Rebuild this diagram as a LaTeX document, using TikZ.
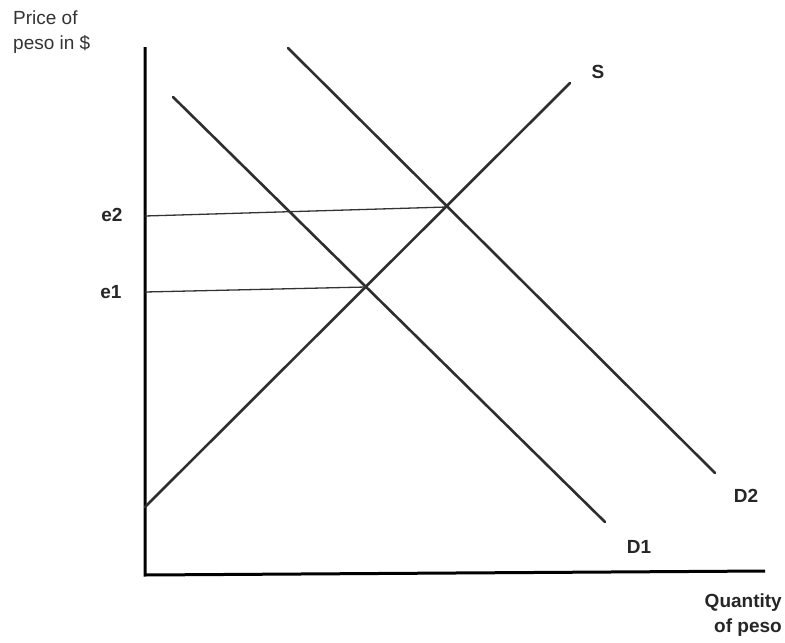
\documentclass[tikz,border=0pt]{standalone}
\usepackage{fontspec}
\setmainfont{Liberation Sans}
\begin{document}
\begin{tikzpicture}[x=1pt,y=-1pt,
  axisline/.style={line width=3pt,black},
  curve/.style={line width=2.6pt,black!82,line cap=round},
  guide/.style={line width=1.3pt,black!80},
  lbl/.style={font=\fontsize{19}{22}\selectfont\bfseries,text=black!85,inner sep=0pt,anchor=base},
  ttl/.style={font=\fontsize{19}{25}\selectfont,text=black!80,inner sep=0pt,align=left}]
\useasboundingbox (0,0) rectangle (785,643);
% axes
\coordinate (O) at (145,575);
\coordinate (Ytop) at (145,47);
\coordinate (Xend) at (765,571);
\draw[axisline] (Ytop) -- (O) -- (Xend);
% curves
\coordinate (S0) at (145,507);
\coordinate (S1) at (570,83);
\coordinate (D1a) at (173,97);
\coordinate (D1b) at (605,522);
\coordinate (D2a) at (288,48);
\coordinate (D2b) at (715,473);
\draw[curve] (S0) -- (S1);
\draw[curve] (D1a) -- (D1b);
\draw[curve] (D2a) -- (D2b);
% equilibria
\coordinate (E2) at (447,207);
\coordinate (E1) at (366,287);
\coordinate (Y2) at (145,216);
\coordinate (Y1) at (145,292);
\draw[guide] (Y2) -- (E2);
\draw[guide] (Y1) -- (E1);
% labels
\node[lbl] (le2) at (112,221) {e2};
\node[lbl] (le1) at (111,298) {e1};
\node[lbl] (lS) at (598,78) {S};
\node[lbl] (lD2) at (746,502) {D2};
\node[lbl] (lD1) at (639,553) {D1};
\node[ttl,anchor=north west] (ytitle) at (13,11) {Price of\\peso in \$};
\node[lbl,anchor=north east,align=right,font=\fontsize{19}{25}\selectfont\bfseries] (xtitle) at (782,594) {Quantity\\of peso};
\end{tikzpicture}
\end{document}
